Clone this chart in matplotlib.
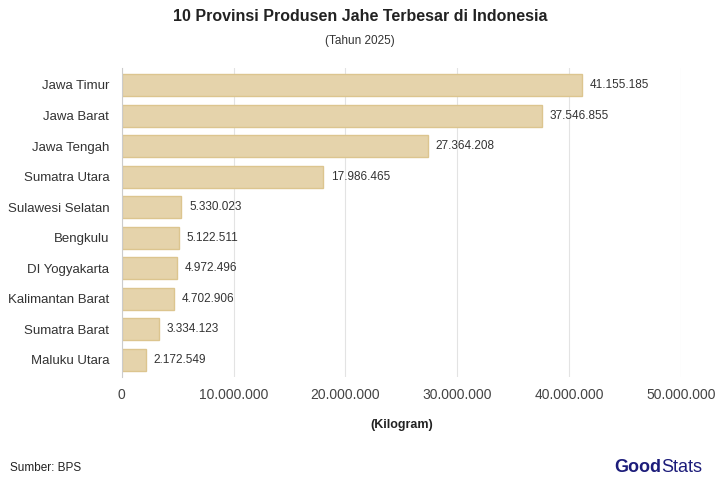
import matplotlib.pyplot as plt
from matplotlib.ticker import FuncFormatter

provinsi = ['Jawa Timur', 'Jawa Barat', 'Jawa Tengah', 'Sumatra Utara', 'Sulawesi Selatan',
            'Bengkulu', 'DI Yogyakarta', 'Kalimantan Barat', 'Sumatra Barat', 'Maluku Utara']
produksi = [41155185, 37546855, 27364208, 17986465, 5330023,
            5122511, 4972496, 4702906, 3334123, 2172549]

def fmt(v):
    return f'{int(v):,}'.replace(',', '.')

plt.rcParams['font.family'] = ['Liberation Sans', 'DejaVu Sans']
fig = plt.figure(figsize=(7.2, 4.8), dpi=100)
ax = fig.add_axes([0.169, 0.215, 0.777, 0.643])

y = list(range(len(provinsi)))
ax.barh(y, produksi, height=0.72, color='#e5d3ab', edgecolor='#dcc58f', linewidth=1, zorder=2)
for yi, v in zip(y, produksi):
    ax.text(v + 700000, yi, fmt(v), va='center', ha='left', fontsize=8.5, color='#333333')

ax.set_yticks(y)
ax.set_yticklabels(provinsi, fontsize=9.5, color='#333333')
ax.set_ylim(len(provinsi) - 0.45, -0.55)
ax.set_xlim(0, 50000000)
ax.set_xticks(range(0, 50000001, 10000000))
ax.xaxis.set_major_formatter(FuncFormatter(lambda v, p: fmt(v)))
ax.tick_params(axis='x', labelsize=10, colors='#444444', length=0, pad=8)
ax.tick_params(axis='y', length=0, pad=9)
ax.grid(axis='x', color='#e3e3e3', linewidth=0.8, zorder=0)
for s in ['top', 'right', 'bottom']:
    ax.spines[s].set_visible(False)
ax.spines['left'].set_color('#cccccc')
ax.set_xlabel('(Kilogram)', fontsize=9, fontweight='bold', color='#222222', labelpad=12)

fig.text(0.5, 0.965, '10 Provinsi Produsen Jahe Terbesar di Indonesia', ha='center', va='center',
         fontsize=11.5, fontweight='bold', color='#222222')
fig.text(0.5, 0.915, '(Tahun 2025)', ha='center', va='center', fontsize=8.5, color='#333333')
fig.text(0.014, 0.025, 'Sumber: BPS', ha='left', va='center', fontsize=8.5, color='#222222')
fig.text(0.918, 0.025, 'Good', ha='right', va='center', fontsize=13, fontweight='bold', color='#1c1c7a')
fig.text(0.918, 0.025, 'Stats', ha='left', va='center', fontsize=13, color='#1c1c7a')

fig.savefig('out.png', dpi=100)
